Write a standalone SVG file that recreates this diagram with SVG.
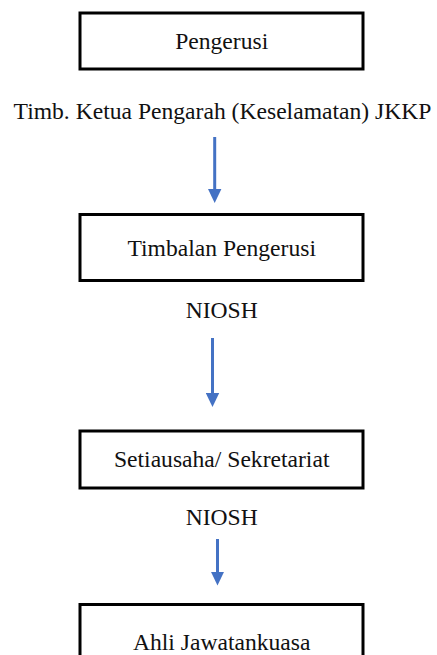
<svg xmlns="http://www.w3.org/2000/svg" width="437" height="655" viewBox="0 0 437 655">
<defs>
<style>
.box{fill:#fff;stroke:#000;stroke-width:3}
.t{font-family:'Liberation Serif','Times New Roman',Tinos,'DejaVu Serif',serif;font-size:23.6px;fill:#111;text-anchor:middle}
.c{stroke:#4472C4;stroke-width:3;fill:none}
</style>
<marker id="ah" viewBox="0 0 14 14" markerWidth="14" markerHeight="14" markerUnits="userSpaceOnUse" refX="0.5" refY="7" orient="auto">
<path d="M0,0.3 L14,7 L0,13.7 z" fill="#4472C4"/>
</marker>
</defs>
<rect width="437" height="655" fill="#fff"/>
<g id="connectors">
<line class="c" x1="214.7" y1="137" x2="214.7" y2="189.5" marker-end="url(#ah)"/>
<line class="c" x1="212.5" y1="338" x2="212.5" y2="393.5" marker-end="url(#ah)"/>
<line class="c" x1="217.5" y1="539" x2="217.5" y2="572" marker-end="url(#ah)"/>
</g>
<g id="pengerusi">
<rect class="box" x="80" y="13" width="283" height="56"/>
<text class="t" x="221.7" y="49" font-family="Liberation Serif, serif">Pengerusi</text>
</g>
<g id="label1">
<text class="t" x="222.5" y="119">Timb. Ketua Pengarah (Keselamatan) JKKP</text>
</g>
<g id="timbalan">
<rect class="box" x="80" y="214.5" width="283" height="66"/>
<text class="t" x="221.7" y="256">Timbalan Pengerusi</text>
</g>
<g id="label2">
<text class="t" x="221.7" y="318">NIOSH</text>
</g>
<g id="setiausaha">
<rect class="box" x="80" y="431" width="283" height="57"/>
<text class="t" x="221.7" y="467">Setiausaha/ Sekretariat</text>
</g>
<g id="label3">
<text class="t" x="221.7" y="525">NIOSH</text>
</g>
<g id="ahli">
<rect class="box" x="80" y="604.5" width="283" height="60"/>
<text class="t" x="221.7" y="650">Ahli Jawatankuasa</text>
</g>
</svg>
